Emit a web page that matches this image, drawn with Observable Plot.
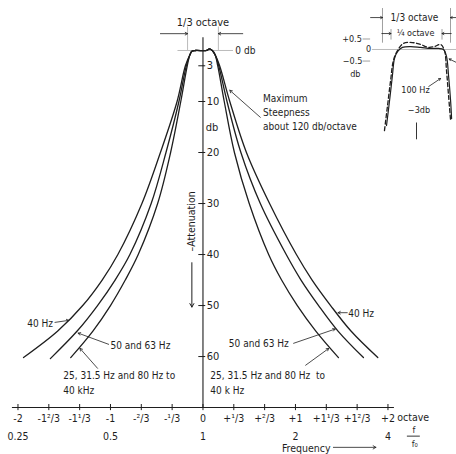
<!DOCTYPE html>
<html><head><meta charset="utf-8">
<script src="https://cdn.jsdelivr.net/npm/d3@7"></script>
<script src="https://cdn.jsdelivr.net/npm/@observablehq/plot@0.6"></script>
<style>
body{margin:0;background:#fff}
#wrap{position:relative;width:456px;height:454px;overflow:hidden}
#wrap svg{display:block}
</style></head><body><div id="wrap"></div>
<script>
// ---- main chart data: attenuation curves (octave offset, attenuation in db) ----
const oct40 = [-1.94, -1.57, -1.30, -1.09, -0.92, -0.66, -0.46, -0.28, -0.19, -0.14, -0.12, -0.08, 0.04, 0.07, 0.10, 0.13, 0.18, 0.29, 0.47, 0.72, 1.01, 1.18, 1.38, 1.60, 1.89];
const db40  = [60.2, 55, 50, 45, 40, 30, 20, 10, 3, 0.8, 0.15, 0, 0, -0.3, 0, 0.8, 3, 10, 20, 30, 40, 45, 50, 55, 60.2];
const oct50 = [-1.65, -1.36, -1.14, -0.95, -0.79, -0.56, -0.40, -0.26, -0.18, -0.14, -0.12, -0.08, 0.04, 0.07, 0.10, 0.13, 0.17, 0.26, 0.41, 0.62, 0.90, 1.06, 1.25, 1.46, 1.735];
const db50  = [60.4, 55, 50, 45, 40, 30, 20, 10, 3, 0.8, 0.15, 0, 0, -0.3, 0, 0.8, 3, 10, 20, 30, 40, 45, 50, 55, 60.2];
const oct25 = [-1.43, -1.19, -1.00, -0.84, -0.70, -0.49, -0.35, -0.24, -0.17, -0.14, -0.12, -0.08, 0.04, 0.07, 0.10, 0.13, 0.16, 0.23, 0.34, 0.50, 0.71, 0.85, 1.02, 1.22, 1.465];
const db25  = [60.2, 55, 50, 45, 40, 30, 20, 10, 3, 0.8, 0.15, 0, 0, -0.3, 0, 0.8, 3, 10, 20, 30, 40, 45, 50, 55, 60.2];

// axis ticks
const dbTicks = [3, 10, 20, 30, 40, 50, 60];
const octTicks = [-2, -5/3, -4/3, -1, -2/3, -1/3, 0, 1/3, 2/3, 1, 4/3, 5/3, 2];
const octLabels = ["-2", "-1²/3", "-1¹/3", "-1", "-²/3", "-¹/3", "0", "+¹/3", "+²/3", "+1", "+1¹/3", "+1²/3", "+2"];
const ratioTicks = [-2, -1, 0, 1, 2];
const ratioLabels = ["0.25", "0.5", "1", "2", "4"];

// ---- inset data: passband ripple (octave offset, level in db) ----
const insetOctA = [-0.147, -0.132, -0.118, -0.108, -0.093, -0.069, -0.029, 0.02, 0.069, 0.108, 0.132, 0.147, 0.157, 0.167, 0.172];
const insetDbA  = [-3.62, -2.43, -1.24, -0.43, -0.1, 0.1, 0.14, 0.1, 0.05, 0.05, 0, -0.33, -1.24, -2.43, -3.29];
const insetOctB = [-0.157, -0.142, -0.127, -0.113, -0.093, -0.064, -0.02, 0.02, 0.059, 0.088, 0.118, 0.137, 0.147, 0.157, 0.167];
const insetDbB  = [-3.86, -2.67, -1.48, -0.52, -0.05, 0.29, 0.33, 0.24, 0.1, 0.14, 0.24, -0.05, -1.0, -2.19, -3.38];

const rows = [];
[["40", oct40, db40], ["50", oct50, db50], ["25", oct25, db25]].forEach(([k, o, d]) =>
  o.forEach((v, i) => rows.push({curve: k, oct: v, db: d[i]})));
const insetRows = [];
[["a", insetOctA, insetDbA], ["b", insetOctB, insetDbB]].forEach(([k, o, d]) =>
  o.forEach((v, i) => insetRows.push({curve: k, oct: v, db: d[i]})));

const FONT = "'DejaVu Sans Condensed', 'Liberation Sans Narrow', 'DejaVu Sans', sans-serif";
const INK = "#1e1e1e";
const T = (x, y, text, opts = {}) => Plot.text([text], {x: () => x, y: () => y, text: d => d, fill: INK, ...opts});
const A = (x1, y1, x2, y2, opts = {}) => Plot.arrow([0], {x1: () => x1, y1: () => y1, x2: () => x2, y2: () => y2, stroke: INK, strokeWidth: 0.8, headLength: 5, ...opts});

const main = Plot.plot({
  width: 456, height: 454, margin: 0,
  x: {domain: [-2.189, 2.741], axis: null},
  y: {domain: [-9.8, 79.2], reverse: true, axis: null},
  style: {fontFamily: FONT, fontSize: "10px", background: "#fff", color: INK},
  marks: [
    // 0 db reference and 1/3 octave band edges
    Plot.ruleY([0], {x1: -0.27, x2: 0.33, stroke: "#aaa", strokeWidth: 0.8}),
    Plot.ruleX([-1/6, 1/6], {y1: -4.6, y2: 0, stroke: "#aaa", strokeWidth: 0.8}),
    A(-0.46, -3.3, -1/6, -3.3),
    A(0.43, -3.3, 1/6, -3.3),
    T(0.0, -5.4, "1/3 octave", {fontSize: 11}),
    T(0.35, 0, "0 db", {textAnchor: "start"}),
    // vertical axis
    Plot.ruleX([0], {y1: -2.5, y2: 70, stroke: INK, strokeWidth: 1.1}),
    Plot.ruleY(dbTicks, {x1: -0.045, x2: 0.03, stroke: INK, strokeWidth: 1}),
    Plot.text(dbTicks, {x: 0.04, y: d => d, text: d => String(d), textAnchor: "start", fill: INK, fontSize: 11}),
    T(0.03, 15.1, "db", {textAnchor: "start", fontSize: 11}),
    T(-0.12, 33.5, "–Attenuation", {rotate: -90, fontSize: 10.5}),
    A(-0.12, 41.6, -0.12, 50.3, {strokeWidth: 1, headLength: 6}),
    // horizontal axis
    Plot.ruleY([70], {x1: -2.06, x2: 2.07, stroke: INK, strokeWidth: 1.1}),
    Plot.ruleX(octTicks, {y1: 69.4, y2: 70.6, stroke: INK, strokeWidth: 1}),
    Plot.text(octTicks, {x: d => d, y: 72.1, text: (d, i) => octLabels[i], fill: INK, fontSize: 10.5}),
    Plot.text(ratioTicks, {x: d => d, y: 75.6, text: (d, i) => ratioLabels[i], fill: INK, fontSize: 10.5}),
    T(2.1, 72.0, "octave", {textAnchor: "start", fontSize: 10.5}),
    T(2.28, 74.5, "f", {fontSize: 9}),
    Plot.ruleY([75.6], {x1: 2.21, x2: 2.35, stroke: INK, strokeWidth: 0.9}),
    T(2.29, 77.2, "f₀", {fontSize: 9}),
    T(1.38, 78, "Frequency", {textAnchor: "end", fontSize: 10.5}),
    A(1.41, 77.8, 1.87, 77.8, {headLength: 6}),
    // curves
    Plot.line(rows, {x: "oct", y: "db", z: "curve", curve: "catmull-rom", stroke: INK, strokeWidth: 1.3}),
    // steepness note
    T(0.65, 9.4, "Maximum", {textAnchor: "start"}),
    T(0.65, 12.2, "Steepness", {textAnchor: "start"}),
    T(0.65, 14.9, "about 120 db/octave", {textAnchor: "start"}),
    A(0.62, 13.1, 0.29, 7.8),
    // left labels
    T(-1.9, 53.5, "40 Hz", {textAnchor: "start"}),
    A(-1.6, 53.3, -1.45, 52.9),
    T(-1.0, 57.8, "50 and 63 Hz", {textAnchor: "start"}),
    A(-1.02, 57.6, -1.35, 55.4),
    T(-1.51, 63.7, "25, 31.5 Hz and 80 Hz to", {textAnchor: "start"}),
    T(-1.51, 66.7, "40 kHz", {textAnchor: "start"}),
    A(-1.14, 62.3, -1.33, 58.4),
    // right labels
    T(1.57, 51.6, "40 Hz", {textAnchor: "start"}),
    A(1.56, 51.4, 1.46, 51.4),
    T(0.28, 57.5, "50 and 63 Hz", {textAnchor: "start"}),
    A(0.98, 57.4, 1.43, 54.6),
    T(0.08, 63.7, "25, 31.5 Hz and 80 Hz  to", {textAnchor: "start"}),
    T(0.08, 66.7, "40 k Hz", {textAnchor: "start"}),
    A(1.11, 61.7, 1.36, 58.4)
  ]
});

const TI = (x, y, text, opts = {}) => Plot.text([text], {x: () => x, y: () => y, text: d => d, fill: INK, ...opts});
const AI = (x1, y1, x2, y2, opts = {}) => Plot.arrow([0], {x1: () => x1, y1: () => y1, x2: () => x2, y2: () => y2, stroke: INK, strokeWidth: 0.8, headLength: 4, ...opts});

const inset = Plot.plot({
  width: 116, height: 140, margin: 0,
  x: {domain: [-0.3725, 0.196], axis: null},
  y: {domain: [-4.333, 2.333], axis: null},
  style: {fontFamily: FONT, fontSize: "9px", background: "none", color: INK},
  marks: [
    Plot.ruleY([0], {x1: -0.216, x2: 0.196, stroke: "#aaa", strokeWidth: 0.8}),
    Plot.ruleY([0.5, -0.55], {x1: -0.262, x2: -0.225, stroke: "#888", strokeWidth: 0.8}),
    TI(-0.268, 0.5, "+0.5", {textAnchor: "end"}),
    TI(-0.222, 0, "0", {textAnchor: "end"}),
    TI(-0.265, -0.57, "−0.5", {textAnchor: "end"}),
    TI(-0.30, -1.15, "db"),
    Plot.ruleX([-1/6, 1/6], {y1: 0.3, y2: 1.95, stroke: "#888", strokeWidth: 0.8}),
    Plot.ruleX([-1/8, 1/8], {y1: 0.45, y2: 0.95, stroke: "#888", strokeWidth: 0.8}),
    AI(-0.225, 1.52, -1/6, 1.52),
    AI(0.196, 1.52, 1/6, 1.52),
    TI(-0.01, 1.52, "1/3 octave", {fontSize: 10}),
    AI(-0.17, 0.76, -0.125, 0.76),
    AI(0.17, 0.76, 0.125, 0.76),
    TI(-0.005, 0.76, "¼ octave"),
    Plot.line(insetRows.filter(d => d.curve === "a"), {x: "oct", y: "db", curve: "catmull-rom", stroke: INK, strokeWidth: 1.2}),
    Plot.line(insetRows.filter(d => d.curve === "b"), {x: "oct", y: "db", curve: "catmull-rom", stroke: INK, strokeWidth: 1.3, strokeDasharray: "4,2.5"}),
    TI(-0.005, -1.95, "100 Hz"),
    AI(0.06, -1.76, 0.118, -1.38),
    TI(0.012, -2.9, "−3db"),
    Plot.ruleX([0], {y1: -3.5, y2: -4.3, stroke: INK, strokeWidth: 0.9}),
    AI(0.196, -0.62, 0.16, -0.45)
  ]
});

const wrap = document.getElementById("wrap");
wrap.appendChild(main);
inset.style.position = "absolute";
inset.style.left = "340px";
inset.style.top = "0px";
wrap.appendChild(inset);
</script></body></html>
